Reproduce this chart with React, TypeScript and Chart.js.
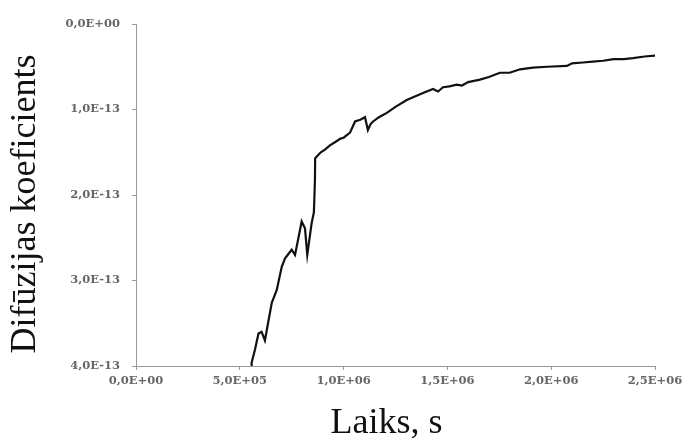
import React, { useEffect, useRef } from "react";
import { Chart, registerables } from "chart.js";

Chart.register(...registerables);

// Time, s
const timeS: number[] = [
  5.55e5, 5.57e5, 5.73e5, 5.9e5, 6.05e5, 6.21e5, 6.36e5, 6.54e5, 6.78e5, 7.02e5, 7.18e5,
  7.5e5, 7.66e5, 7.98e5, 8.14e5, 8.25e5, 8.46e5, 8.57e5, 8.62e5, 8.63e5,
  8.9e5, 9.1e5, 9.34e5, 9.6e5, 9.85e5, 1.0e6, 1.031e6, 1.055e6, 1.08e6, 1.103e6,
  1.117e6, 1.13e6, 1.142e6, 1.17e6, 1.208e6, 1.25e6, 1.304e6, 1.36e6, 1.4e6, 1.431e6,
  1.455e6, 1.479e6, 1.51e6, 1.545e6, 1.57e6, 1.6e6, 1.657e6, 1.7e6, 1.753e6, 1.8e6,
  1.85e6, 1.912e6, 1.98e6, 2.076e6, 2.1e6, 2.153e6, 2.2e6, 2.25e6, 2.3e6, 2.35e6,
  2.394e6, 2.45e6, 2.5e6,
];

// Diffusion coefficient
const diffCoef: number[] = [
  4.0e-13, 3.96e-13, 3.81e-13, 3.62e-13, 3.6e-13, 3.7e-13, 3.5e-13, 3.26e-13, 3.11e-13, 2.84e-13, 2.74e-13,
  2.64e-13, 2.7e-13, 2.31e-13, 2.39e-13, 2.7e-13, 2.33e-13, 2.2e-13, 1.82e-13, 1.57e-13,
  1.5e-13, 1.47e-13, 1.42e-13, 1.38e-13, 1.34e-13, 1.33e-13, 1.27e-13, 1.14e-13, 1.12e-13, 1.09e-13,
  1.24e-13, 1.17e-13, 1.14e-13, 1.09e-13, 1.04e-13, 0.97e-13, 0.89e-13, 0.83e-13, 0.79e-13, 0.76e-13,
  0.79e-13, 0.74e-13, 0.73e-13, 0.71e-13, 0.72e-13, 0.68e-13, 0.65e-13, 0.62e-13, 0.57e-13, 0.57e-13,
  0.53e-13, 0.51e-13, 0.5e-13, 0.49e-13, 0.46e-13, 0.45e-13, 0.44e-13, 0.43e-13, 0.41e-13, 0.41e-13,
  0.4e-13, 0.38e-13, 0.37e-13,
];

const xTitle = "Laiks, s\u00A0\u00A0";
const yTitle = "Difūzijas koeficients\u00A0\u00A0";

function fmtExp(v: number): string {
  const s = Number(v).toExponential(1); // e.g. "1.0e-13"
  const [mant, exp] = s.split("e");
  const sign = exp[0] === "-" ? "-" : "+";
  const digits = exp.replace(/^[+-]/, "").padStart(2, "0");
  return mant.replace(".", ",") + "E" + sign + digits;
}

export default function App() {
  const ref = useRef<HTMLCanvasElement | null>(null);
  useEffect(() => {
    if (!ref.current) return;
    const tickFont = { family: "'DejaVu Serif', serif", size: 11.5, weight: "bold" };
    const titleFont = { family: "'Liberation Serif', 'Times New Roman', serif", size: 36, lineHeight: 1.1 };
    const chart = new Chart(ref.current, {
      type: "line",
      data: {
        datasets: [
          {
            data: timeS.map((t, i) => ({ x: t, y: diffCoef[i] })),
            borderColor: "#111",
            borderWidth: 2.2,
            pointRadius: 0,
            tension: 0,
            fill: false,
          },
        ],
      },
      options: {
        animation: false,
        responsive: false,
        maintainAspectRatio: false,
        layout: { padding: { left: 0, right: 30, top: 24, bottom: 0 } },
        plugins: { legend: { display: false }, tooltip: { enabled: false } },
        scales: {
          x: {
            type: "linear",
            min: 0,
            max: 2.5e6,
            afterFit: (s: any) => {
              s.height = 77;
              s.paddingRight = 0;
              s.paddingLeft = 0;
            },
            ticks: {
              stepSize: 5e5,
              callback: (v: any) => fmtExp(Number(v)),
              font: tickFont,
              color: "#666",
              padding: 4,
              maxRotation: 0,
            },
            grid: { drawOnChartArea: false, tickLength: 4, color: "#999" },
            border: { color: "#999" },
            title: { display: true, text: xTitle, font: titleFont, color: "#111", padding: { top: 0, bottom: 0 } },
          },
          y: {
            type: "linear",
            reverse: true,
            min: 0,
            max: 4e-13,
            afterFit: (s: any) => {
              s.width = 136;
              s.paddingTop = 0;
              s.paddingBottom = 0;
            },
            ticks: {
              stepSize: 1e-13,
              callback: (v: any) => fmtExp(Number(v)),
              font: tickFont,
              color: "#666",
              padding: 12,
            },
            grid: { drawOnChartArea: false, tickLength: 4, color: "#999" },
            border: { color: "#999" },
            title: { display: true, text: yTitle, font: titleFont, color: "#111", padding: { top: 6, bottom: 0 } },
          },
        },
      },
    } as any);
    return () => chart.destroy();
  }, []);
  return (
    <div style={{ position: "fixed", left: 0, top: 0, width: 685, height: 443, background: "#fff" }}>
      <canvas ref={ref} width={685} height={443} style={{ display: "block" }} />
    </div>
  );
}
